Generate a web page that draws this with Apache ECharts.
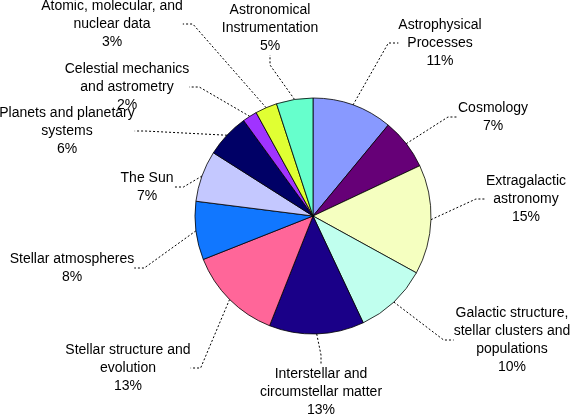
<!DOCTYPE html>
<html>
<head>
<meta charset="utf-8">
<script src="https://cdn.jsdelivr.net/npm/echarts@6/dist/echarts.min.js"></script>
<style>
  html, body { margin: 0; padding: 0; background: #fff; }
  #chart { width: 570px; height: 415px; }
</style>
</head>
<body>
<div id="chart"></div>
<script>
// topics, clockwise from 12 o'clock
var topics = [
    "Astrophysical\nProcesses",
    "Cosmology",
    "Extragalactic\nastronomy",
    "Galactic structure,\nstellar clusters and\npopulations",
    "Interstellar and\ncircumstellar matter",
    "Stellar structure and\nevolution",
    "Stellar atmospheres",
    "The Sun",
    "Planets and planetary\nsystems",
    "Celestial mechanics\nand astrometry",
    "Atomic, molecular, and\nnuclear data",
    "Astronomical\nInstrumentation"
];
var shares = [11, 7, 15, 10, 13, 13, 8, 7, 6, 2, 3, 5];
var sliceColors = [
    "#8899ff", "#660077", "#f5ffc0", "#c0ffee", "#1a0088", "#ff6699",
    "#1177ff", "#c4c8ff", "#000066", "#a033ff", "#e0ff33", "#66ffcc"
];
// label block centres (px)
var labelSpots = [
    [440, 43], [493, 117], [526, 199], [512, 340], [321, 392], [128, 368],
    [72, 268], [147, 187], [67, 131], [127, 87], [112, 24], [270, 28]
];

var chart = echarts.init(document.getElementById("chart"), null, { renderer: "canvas" });

var pieData = topics.map(function (name, i) {
    return { name: name, value: shares[i], itemStyle: { color: sliceColors[i] } };
});

chart.setOption({
    animation: false,
    backgroundColor: "#fff",
    series: [
        {
            type: "pie",
            center: [313, 216],
            radius: [0, 118],
            startAngle: 90,
            clockwise: true,
            avoidLabelOverlap: false,
            itemStyle: {
                borderColor: "#000",
                borderWidth: 0.8
            },
            label: {
                show: true,
                position: "outside",
                formatter: "{b}\n{c}%",
                color: "#000",
                fontFamily: "Liberation Sans, Arial, sans-serif",
                fontSize: 14,
                lineHeight: 18,
                align: "center"
            },
            labelLine: {
                show: true,
                length: 20,
                length2: 10,
                lineStyle: {
                    color: "#000",
                    width: 1,
                    type: [2, 2]
                }
            },
            labelLayout: function (params) {
                var p = labelSpots[params.dataIndex];
                return {
                    x: p[0],
                    y: p[1],
                    align: "center",
                    verticalAlign: "middle"
                };
            },
            emphasis: { disabled: true },
            data: pieData
        }
    ]
});
</script>
</body>
</html>
